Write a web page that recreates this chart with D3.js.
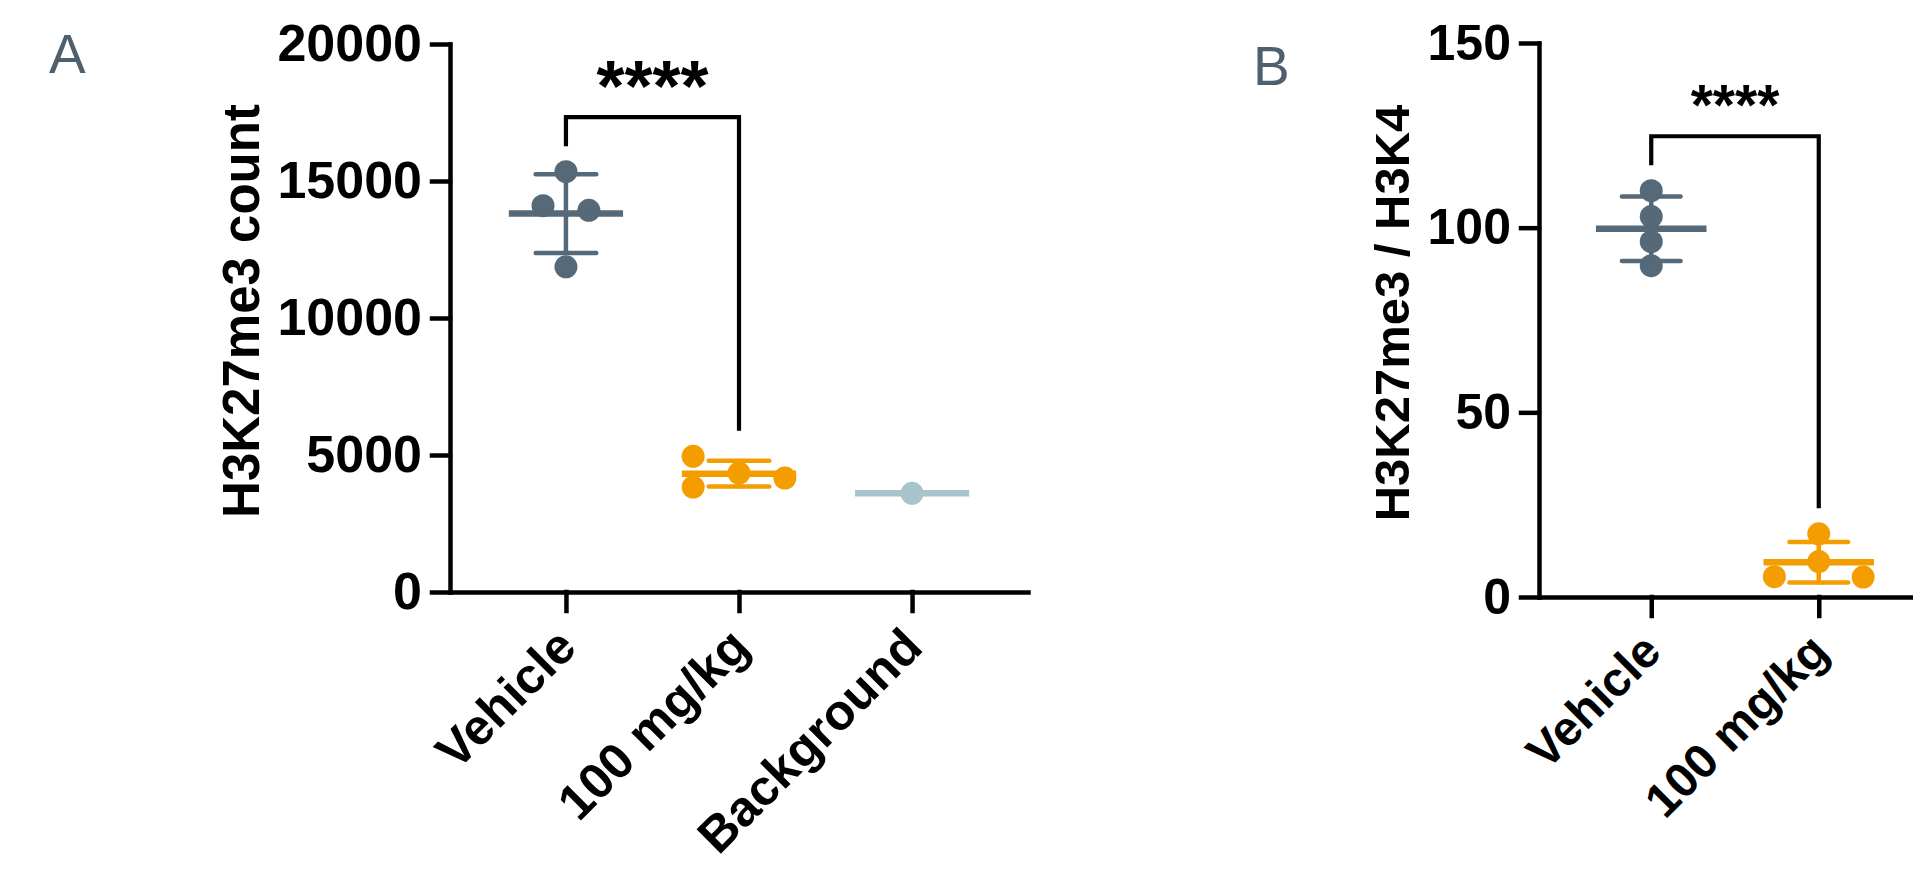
<!DOCTYPE html>
<html>
<head>
<meta charset="utf-8">
<script src="https://cdn.jsdelivr.net/npm/d3@7"></script>
<style>
	body { margin: 0; background: #fff; }
	svg { display: block; }
	text { font-family: "Liberation Sans", Arial, Helvetica, sans-serif; }
</style>
</head>
<body>
<div id="chart"></div>
<script>
	//panel A : H3K27me3 count per group
	var groupsA = ["Vehicle", "100 mg/kg", "Background"];
	var vehicleA = [15340, 14100, 13930, 11870];
	var doseA = [4340, 4160, 3830, 4950];
	var backgroundA = [3600];
	var ticksA = [0, 5000, 10000, 15000, 20000];
	var titleA = "H3K27me3 count";

	//panel B : H3K27me3 / H3K4 ratio
	var groupsB = ["Vehicle", "100 mg/kg"];
	var vehicleB = [110, 103, 96.2, 89.7];
	var doseB = [17.1, 9.6, 5.4, 5.5];
	var ticksB = [0, 50, 100, 150];
	var titleB = "H3K27me3 / H3K4";

	//significance between vehicle and dose
	var starsA = "****";
	var starsB = "****";

	var colors = {"Vehicle": "#566979", "100 mg/kg": "#f49d00", "Background": "#a6c4ca"};

	var svg = d3.select("#chart").append("svg")
		.attr("width", 1913)
		.attr("height", 875);

	var r = 11.5;

	//place points in lanes so they don't sit on top of each other (prism style)
	var swarm = function (values, y, step) {
		var hit = 2 * r * 0.97;
		var placed = [];
		values.forEach(function (v) {
			var py = y(v);
			var lane = [0, 1, -1, 2, -2, 3, -3].find(function (s) {
				return !placed.some(function (p) { return p.lane == s && Math.abs(p.y - py) < hit; });
			});
			placed.push({value: v, y: py, lane: lane});
		});
		//center each cluster of touching points
		var comp = placed.map(function () { return -1; });
		var c = 0;
		placed.forEach(function (p, i) {
			if (comp[i] != -1) return;
			var stack = [i];
			comp[i] = c;
			while (stack.length) {
				var k = stack.pop();
				placed.forEach(function (q, j) {
					if (comp[j] == -1 && Math.abs(q.y - placed[k].y) < hit) {
						comp[j] = c;
						stack.push(j);
					}
				});
			}
			c += 1;
		});
		for (var n = 0; n < c; n++) {
			var lanes = placed.filter(function (p, i) { return comp[i] == n; }).map(function (p) { return p.lane; });
			var shift = (d3.min(lanes) + d3.max(lanes)) / 2;
			placed.forEach(function (p, i) { if (comp[i] == n) p.lane -= shift; });
		}
		return placed.map(function (p) { return {value: p.value, dx: p.lane * step}; });
	};

	var drawPanel = function (p) {
		var y = d3.scaleLinear()
			.domain([p.ticks[0], p.ticks[p.ticks.length - 1]])
			.range([p.bottom, p.top]);
		var x = d3.scalePoint()
			.domain(p.groups)
			.range([p.left, p.right])
			.padding(0.67);
		var step = x.step();
		var g = svg.append("g");

		//y axis
		var yAxis = g.append("g")
			.attr("transform", "translate(" + p.left + ",0)")
			.call(d3.axisLeft(y).tickValues(p.ticks).tickFormat(d3.format("d"))
				.tickSize(18).tickSizeOuter(0).tickPadding(10));
		yAxis.selectAll("text")
			.style("font-size", p.tickSize + "px")
			.style("font-weight", "bold")
			.attr("fill", "#000");

		//x axis, labels drawn separately so they can be turned
		g.append("g")
			.attr("transform", "translate(0," + p.bottom + ")")
			.call(d3.axisBottom(x).tickSize(19).tickSizeOuter(0).tickFormat(""));

		g.selectAll(".domain, .tick line")
			.attr("stroke", "#000")
			.attr("stroke-width", 4.5)
			.attr("stroke-linecap", "square");

		g.selectAll(".xlabel")
			.data(p.groups)
			.enter()
			.append("text")
				.attr("class", "xlabel")
				.attr("transform", function (d) { return "translate(" + x(d) + "," + (p.bottom + 45) + ") rotate(-45)"; })
				.attr("dy", "0.36em")
				.style("text-anchor", "end")
				.style("font-size", p.labelSize + "px")
				.style("font-weight", "bold")
				.text(function (d) { return d; });

		//axis title
		g.append("text")
			.attr("transform", "translate(" + p.titleX + "," + p.titleY + ") rotate(-90)")
			.style("text-anchor", "middle")
			.style("font-size", p.titleSize + "px")
			.style("font-weight", "bold")
			.text(p.title);

		//panel letter
		g.append("text")
			.attr("x", p.letterX)
			.attr("y", p.letterY)
			.attr("fill", "#4e5f6e")
			.style("font-size", "55px")
			.text(p.letter);

		//dots, mean and sd for each group
		var tops = [];
		p.groups.forEach(function (grp, i) {
			var vals = p.values[i];
			var col = colors[grp];
			var cx = x(grp);
			var mean = d3.mean(vals);
			var sd = vals.length > 1 ? d3.deviation(vals) : 0;

			g.selectAll(".dot" + i)
				.data(swarm(vals, y, step * 0.265))
				.enter()
				.append("circle")
					.attr("cx", function (d) { return cx + d.dx; })
					.attr("cy", function (d) { return y(d.value); })
					.attr("r", r)
					.attr("fill", col);

			g.append("line")
				.attr("x1", cx - step * 0.33).attr("x2", cx + step * 0.33)
				.attr("y1", y(mean)).attr("y2", y(mean))
				.attr("stroke", col)
				.attr("stroke-width", 6.5);

			if (sd > 0) {
				var sdLines = [
					[cx, y(mean + sd), cx, y(mean - sd)],
					[cx - step * 0.175, y(mean + sd), cx + step * 0.175, y(mean + sd)],
					[cx - step * 0.175, y(mean - sd), cx + step * 0.175, y(mean - sd)]
				];
				sdLines.forEach(function (l) {
					g.append("line")
						.attr("x1", l[0]).attr("y1", l[1])
						.attr("x2", l[2]).attr("y2", l[3])
						.attr("stroke", col)
						.attr("stroke-width", 4.5)
						.attr("stroke-linecap", "round");
				});
			}
			tops.push(y(Math.max(d3.max(vals), mean + sd)) - r - 14);
		});

		//significance bracket between first two groups
		var legA = tops[0], legB = tops[1];
		var top = Math.min(legA, legB) - 29;
		var x0 = x(p.groups[0]), x1 = x(p.groups[1]);
		g.append("path")
			.attr("d", "M" + x0 + "," + legA + "V" + top + "H" + x1 + "V" + legB)
			.attr("fill", "none")
			.attr("stroke", "#000")
			.attr("stroke-width", 4.2);

		var stars = g.append("text")
			.attr("x", (x0 + x1) / 2)
			.attr("y", 0)
			.style("text-anchor", "middle")
			.style("font-size", p.starSize + "px")
			.style("font-weight", "bold")
			.text(p.stars);
		var bb = stars.node().getBBox();
		stars.attr("y", (top - 31) - (bb.y + bb.height / 2));
	};

	drawPanel({
		groups: groupsA, values: [vehicleA, doseA, backgroundA], ticks: ticksA,
		title: titleA, stars: starsA, letter: "A",
		left: 450, right: 1028, top: 44, bottom: 592,
		tickSize: 52, labelSize: 50, titleSize: 51, starSize: 72,
		titleX: 259, titleY: 311, letterX: 49, letterY: 73
	});

	drawPanel({
		groups: groupsB, values: [vehicleB, doseB], ticks: ticksB,
		title: titleB, stars: starsB, letter: "B",
		left: 1539, right: 1931, top: 43, bottom: 597,
		tickSize: 50, labelSize: 48, titleSize: 49, starSize: 57,
		titleX: 1409, titleY: 313, letterX: 1253, letterY: 85
	});
</script>
</body>
</html>
